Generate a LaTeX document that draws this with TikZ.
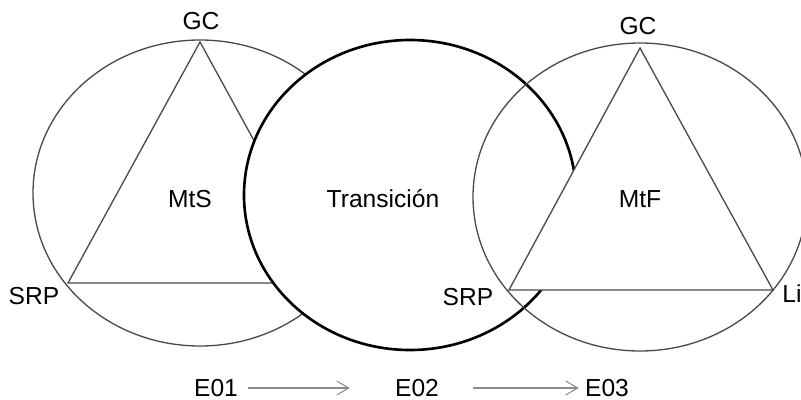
\documentclass[tikz,border=0pt]{standalone}
\usepackage{fontspec}
\setmainfont{Liberation Sans}
\usepackage{xcolor}
\usepackage{tikz}
\usetikzlibrary{arrows.meta}
\definecolor{ink}{HTML}{000000}
\definecolor{rim}{HTML}{4A4A4A}
\definecolor{flowgray}{HTML}{8C8C8C}
\tikzset{
  ring/.style={draw=rim, line width=0.75pt},
  bigring/.style={draw=ink, line width=1.5pt, fill=white},
  tri/.style={draw=rim, line width=0.75pt, line join=miter},
  lab/.style={text=ink, inner sep=0pt, font=\fontsize{14}{16}\selectfont},
  flow/.style={draw=flowgray, line width=0.6pt, -{Straight Barb[length=2.4mm,width=2.8mm]}},
}

\begin{document}
\begin{tikzpicture}[x=0.02cm,y=-0.02cm]
  \useasboundingbox (0,0) rectangle (801,399);
  \coordinate (cS) at (200,193);
  \coordinate (cT) at (410,195);
  \coordinate (cF) at (640,197);
  \coordinate (apexS) at (200,42);
  \coordinate (srpS) at (68,283);
  \coordinate (baseS) at (332,283);
  \coordinate (apexF) at (640,48);
  \coordinate (srpF) at (509,290);
  \coordinate (liF) at (773,290);
  % start situation
  \draw[ring] (cS) ellipse [x radius=167, y radius=153];
  \draw[tri] (apexS)--(srpS)--(baseS)--cycle;
  % transition
  \draw[bigring] (cT) ellipse [x radius=166, y radius=155];
  % final situation
  \draw[ring] (cF) ellipse [x radius=167, y radius=154];
  \draw[tri, fill=white] (apexF)--(srpF)--(liF)--cycle;
  \node[lab] (gcS) at (201,21) {GC};
  \node[lab] (srpSl) at (34,296) {SRP};
  \node[lab] (mts) at (190,199) {MtS};
  \node[lab] (trans) at (383,199) {Transición};
  \node[lab] (gcF) at (638,26) {GC};
  \node[lab] (srpFl) at (468,297) {SRP};
  \node[lab] (mtf) at (640,199) {MtF};
  \node[lab, anchor=west] (li) at (782,294) {Li};
  \node[lab] (e01) at (216,388) {E01};
  \node[lab] (e02) at (417,388) {E02};
  \node[lab] (e03) at (607,388) {E03};
  \draw[flow, shorten <=2mm, shorten >=9mm] (e01) -- (e02);
  \draw[flow, shorten <=6.8mm, shorten >=1.2mm] (e02) -- (e03);
\end{tikzpicture}
\end{document}
